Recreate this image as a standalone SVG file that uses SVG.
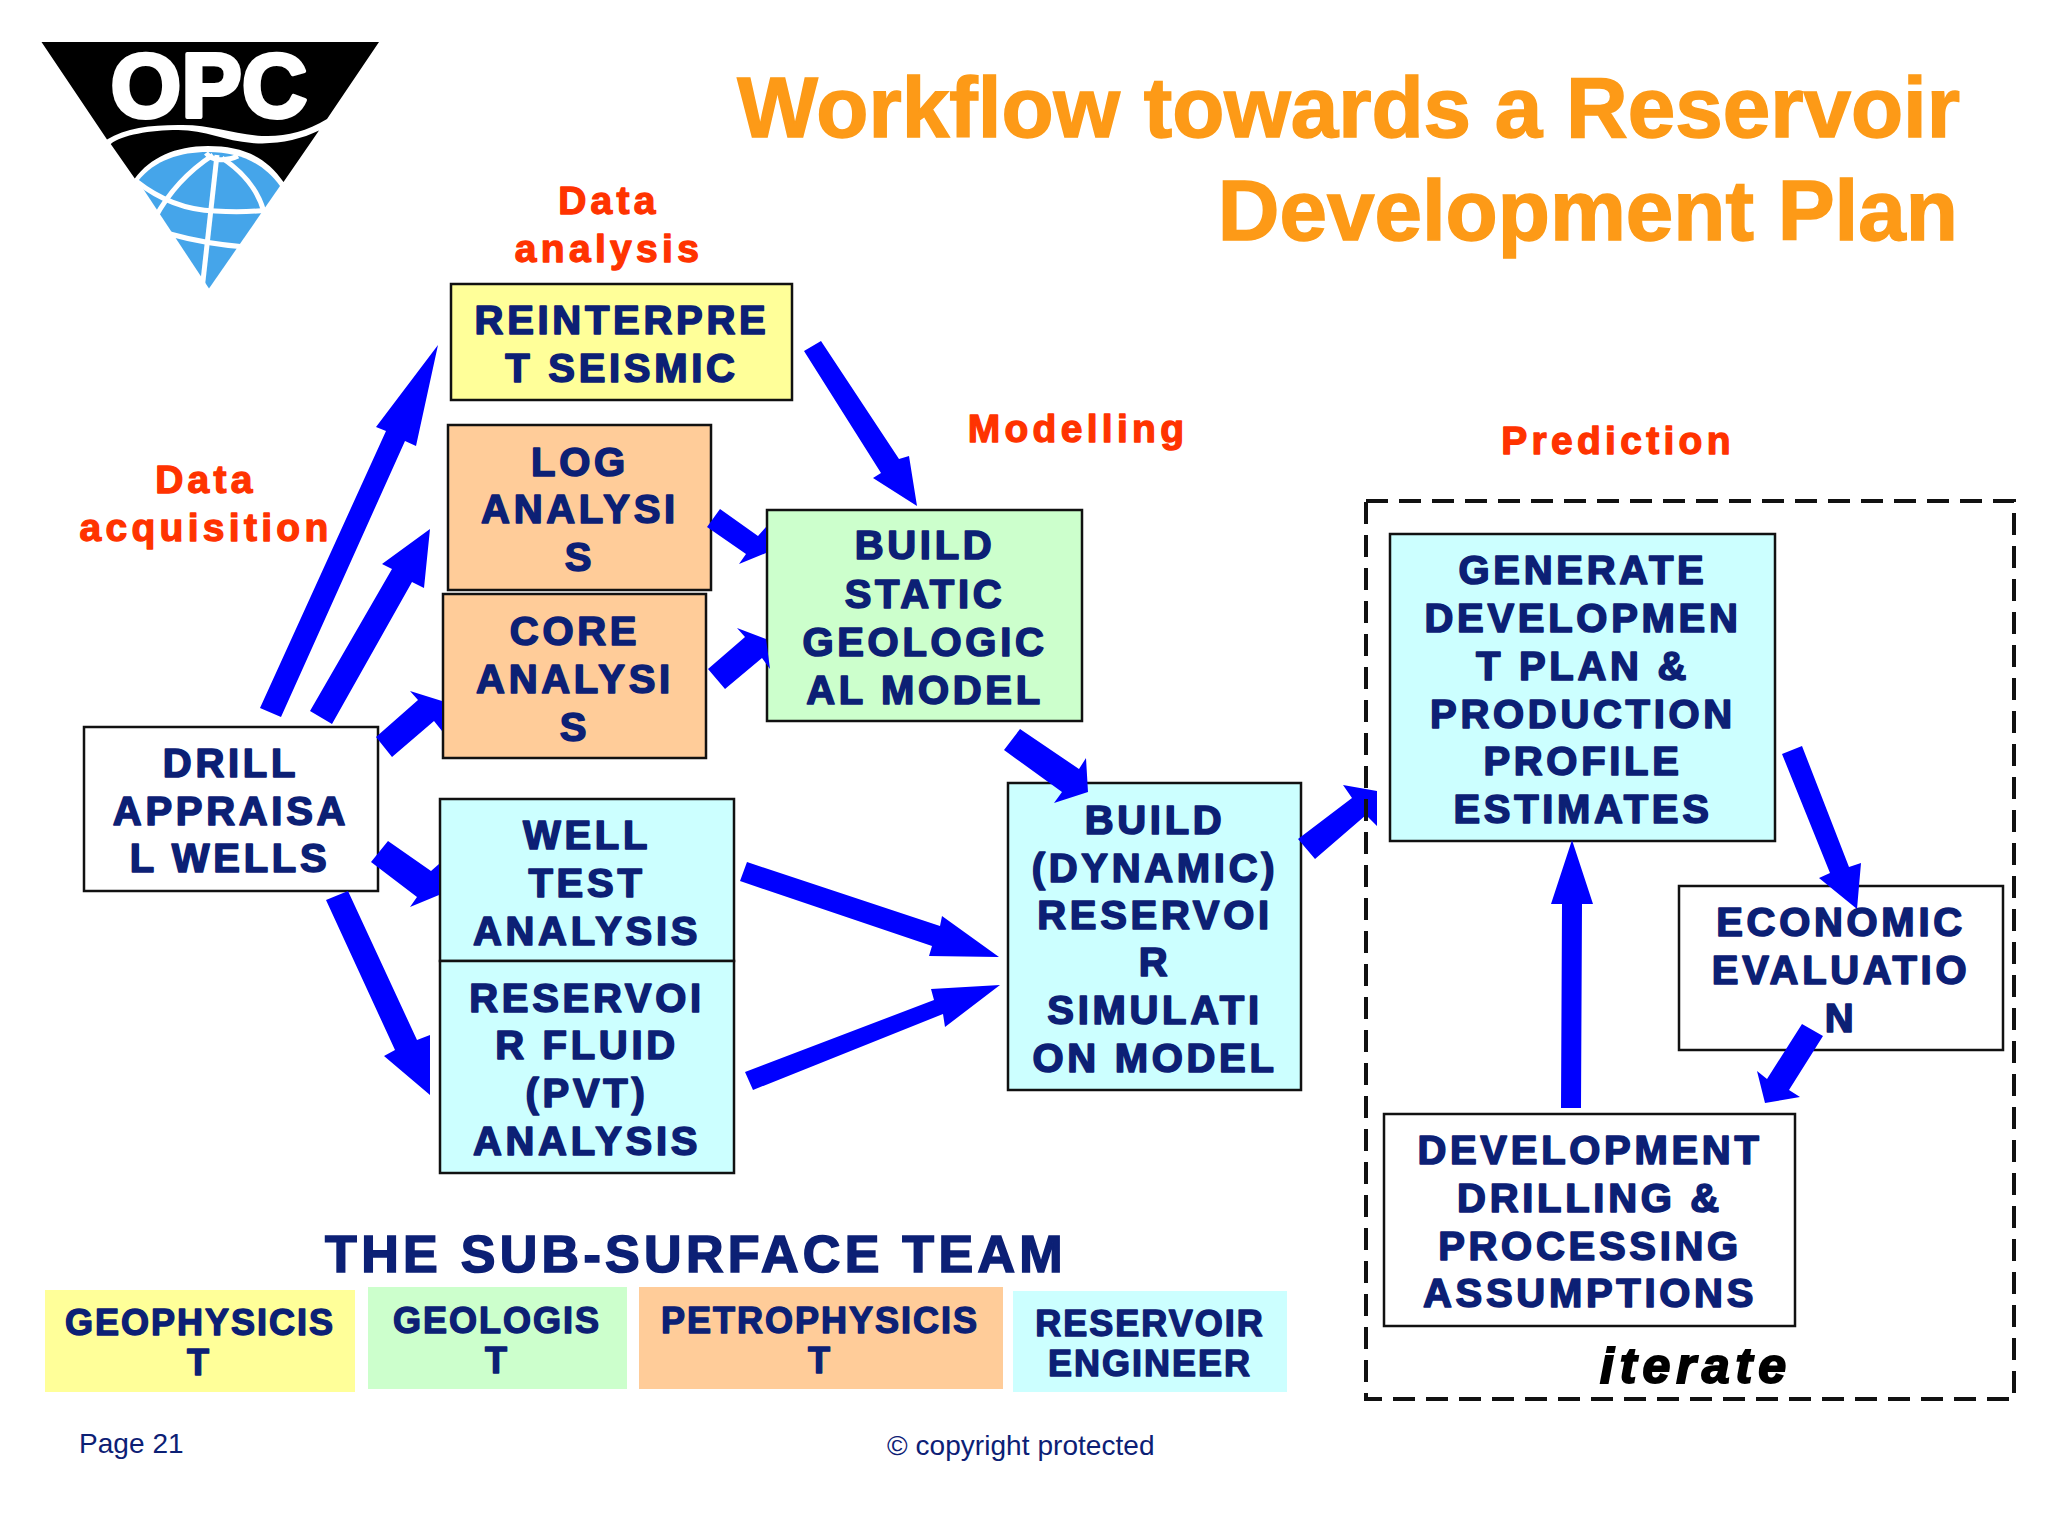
<svg xmlns="http://www.w3.org/2000/svg" width="2048" height="1536" viewBox="0 0 2048 1536">
<style>
text{font-family:"Liberation Sans",Arial,sans-serif;font-weight:700;text-anchor:middle}
.n text{font-size:40px;letter-spacing:3.7px;fill:#0c2075;stroke:#0c2075;stroke-width:1.6px;stroke-linejoin:round}
.n rect{stroke:#111;stroke-width:2.5px}
.y{fill:#ffff99}.g{fill:#ccffcc}.o{fill:#ffcc99}.c{fill:#ccffff}.w{fill:#fff}
.l{font-size:39px;letter-spacing:4.3px;fill:#ff3300;stroke:#ff3300;stroke-width:1.3px;stroke-linejoin:round}
.t{font-size:85.4px;fill:#fd9a17;stroke:#fd9a17;stroke-width:1.5px;text-anchor:end;letter-spacing:0}
.b rect{stroke:none}
.b text{font-size:36px;letter-spacing:2px;fill:#0c2075;stroke:#0c2075;stroke-width:1.4px;stroke-linejoin:round}
.f{font-size:28px;font-weight:400;fill:#0c2075;text-anchor:start;letter-spacing:.05px}
#connectors polygon{fill:#0000ff}
</style>
<rect width="2048" height="1536" fill="#fff"/>
<g id="logo">
<path fill="#000" d="M41.5 42H379L327 119C305 132 285 137 262 136C232 134 210 124 178 125C150 125 125 128 107 139.6Z"/>
<path fill="#000" d="M110.7 144C122 135 150 130 178 130C205 130 225 141 252 143C275 145 300 140 319 130.6L283.5 182C265 155 240 146 208 146C175 146 150 158 134.8 178.4Z"/>
<path fill="#45a5ea" d="M138 181C155 160 180 152 208 152C240 152 263 163 280 186L209 288.6Z"/>
<g fill="none" stroke="#fff" stroke-width="5">
<path d="M217 155L202 290"/>
<path d="M222 158C243 172 258 190 264 212"/>
<path d="M213 155C190 170 170 190 155 218"/>
<path d="M136 181C160 200 185 210 215 211C232 212 250 212 268 210"/>
<path d="M170 234C195 241 220 245 245 247"/>
<path d="M206 153C212 161 226 162 238 156"/>
</g>
<text x="209" y="117" font-size="91" fill="#fff" stroke="#fff" stroke-width="4" stroke-linejoin="round">OPC</text>
</g>
<text class="t" x="1960" y="137">Workflow towards a Reservoir</text>
<text class="t" x="1958" y="240">Development Plan</text>
<text class="l" x="609" y="214">Data</text>
<text class="l" x="609" y="262">analysis</text>
<text class="l" x="206" y="493">Data</text>
<text class="l" x="206" y="541">acquisition</text>
<text class="l" x="1078" y="442">Modelling</text>
<text class="l" x="1618" y="454">Prediction</text>
<g id="drill" class="n"><rect class="w" x="84" y="727" width="294" height="164"/><text x="231" y="777">DRILL</text><text x="231" y="825">APPRAISA</text><text x="230" y="872">L WELLS</text></g>
<g id="reinterpret" class="n"><rect class="y" x="451" y="284" width="341" height="116"/><text x="622" y="334">REINTERPRE</text><text x="622" y="382">T SEISMIC</text></g>
<g id="log" class="n"><rect class="o" x="448" y="425" width="263" height="165"/><text x="580" y="476">LOG</text><text x="580" y="523">ANALYSI</text><text x="580" y="571">S</text></g>
<g id="core" class="n"><rect class="o" x="443" y="594" width="263" height="164"/><text x="575" y="645">CORE</text><text x="575" y="693">ANALYSI</text><text x="575" y="741">S</text></g>
<g id="welltest" class="n"><rect class="c" x="440" y="799" width="294" height="162"/><text x="587" y="849">WELL</text><text x="587" y="897">TEST</text><text x="587" y="945">ANALYSIS</text></g>
<g id="pvt" class="n"><rect class="c" x="440" y="961" width="294" height="212"/><text x="587" y="1012">RESERVOI</text><text x="587" y="1059">R FLUID</text><text x="587" y="1107">(PVT)</text><text x="587" y="1155">ANALYSIS</text></g>
<g id="static" class="n"><rect class="g" x="767" y="510" width="315" height="211"/><text x="925" y="559">BUILD</text><text x="925" y="608">STATIC</text><text x="925" y="656">GEOLOGIC</text><text x="925" y="704">AL MODEL</text></g>
<g id="dynamic" class="n"><rect class="c" x="1008" y="783" width="293" height="307"/><text x="1155" y="834">BUILD</text><text x="1155" y="882">(DYNAMIC)</text><text x="1155" y="929">RESERVOI</text><text x="1155" y="976">R</text><text x="1155" y="1024">SIMULATI</text><text x="1155" y="1072">ON MODEL</text></g>
<g id="generate" class="n"><rect class="c" x="1390" y="534" width="385" height="307"/><text x="1583" y="584">GENERATE</text><text x="1583" y="632">DEVELOPMEN</text><text x="1583" y="680">T PLAN &amp;</text><text x="1583" y="728">PRODUCTION</text><text x="1583" y="775">PROFILE</text><text x="1583" y="823">ESTIMATES</text></g>
<g id="economic" class="n"><rect class="w" x="1679" y="886" width="324" height="164"/><text x="1841" y="936">ECONOMIC</text><text x="1841" y="984">EVALUATIO</text><text x="1841" y="1032">N</text></g>
<g id="development" class="n"><rect class="w" x="1384" y="1114" width="411" height="212"/><text x="1590" y="1164">DEVELOPMENT</text><text x="1590" y="1212">DRILLING &amp;</text><text x="1590" y="1260">PROCESSING</text><text x="1590" y="1307">ASSUMPTIONS</text></g>
<g id="connectors">
<polygon points="438,345 416,446 405,441 281,717 260,708 386,431 376,427"/>
<polygon points="430,529 424,588 412,582 332,724 310,711 392,569 382,564"/>
<polygon points="376,737 418,700 410,691 442,701 442,731 434,721 392,757"/>
<polygon points="707,527 720,509 758,536 766,527 766,553 739,564 746,554"/>
<polygon points="708,669 745,637 737,628 766,639 770,669 762,658 725,689"/>
<polygon points="804,351 821,341 899,459 909,456 917,506 873,478 881,473"/>
<polygon points="1004,750 1020,729 1079,769 1086,758 1088,792 1054,803 1062,792"/>
<polygon points="740,881 747,862 940,926 942,916 999,957 929,956 932,946"/>
<polygon points="745,1072 753,1090 943,1014 945,1027 1000,985 931,989 934,1000"/>
<polygon points="371,862 388,841 431,871 439,864 439,895 410,907 417,897"/>
<polygon points="326,900 348,891 417,1040 430,1035 430,1095 384,1056 395,1050"/>
<polygon points="1298,839 1352,798 1343,785 1377,791 1377,826 1366,815 1315,859"/>
<polygon points="1782,754 1802,746 1849,867 1861,863 1857,909 1819,878 1830,873"/>
<polygon points="1802,1024 1823,1036 1789,1090 1800,1097 1765,1103 1757,1071 1767,1079"/>
<polygon points="1561,1108 1581,1108 1582,904 1593,904 1572,840 1551,904 1562,904"/>
</g>
<rect id="iterate-frame" x="1366" y="501" width="648" height="898" fill="none" stroke="#111" stroke-width="4" stroke-dasharray="22 11"/>
<text x="1696" y="1383" font-size="50" font-style="italic" letter-spacing="6" fill="#000" stroke="#000" stroke-width="2">iterate</text>
<text x="696" y="1272" font-size="52" letter-spacing="4.3" fill="#0c2075" stroke="#0c2075" stroke-width="1.6">THE SUB-SURFACE TEAM</text>
<g id="geophysicist" class="b"><rect class="y" x="45" y="1290" width="310" height="102"/><text x="200" y="1335">GEOPHYSICIS</text><text x="199" y="1375">T</text></g>
<g id="geologist" class="b"><rect class="g" x="368" y="1287" width="259" height="102"/><text x="497" y="1333">GEOLOGIS</text><text x="497" y="1373">T</text></g>
<g id="petrophysicist" class="b"><rect class="o" x="639" y="1287" width="364" height="102"/><text x="820" y="1333">PETROPHYSICIS</text><text x="820" y="1373">T</text></g>
<g id="engineer" class="b"><rect class="c" x="1013" y="1291" width="274" height="101"/><text x="1150" y="1336">RESERVOIR</text><text x="1150" y="1376">ENGINEER</text></g>
<text class="f" x="79" y="1453">Page 21</text>
<text class="f" x="887" y="1455">© copyright protected</text>
</svg>
